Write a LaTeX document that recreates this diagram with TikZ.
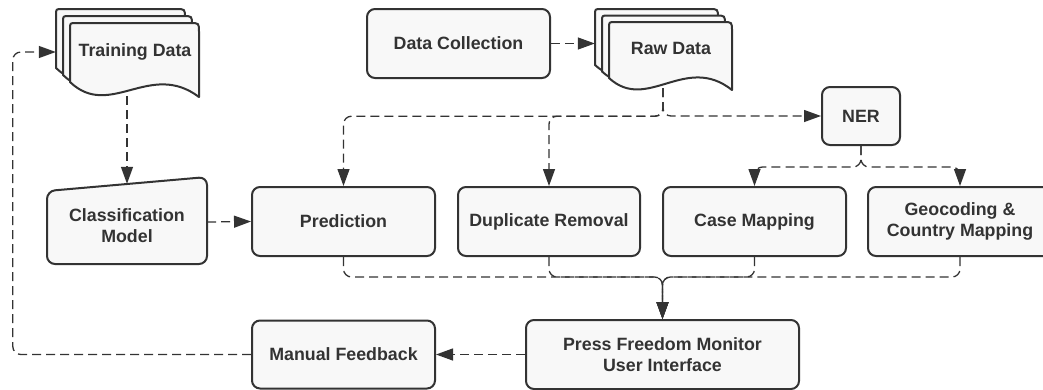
\documentclass[tikz,border=0pt]{standalone}
\usepackage{fontspec}
\setmainfont{Liberation Sans}
\usetikzlibrary{arrows.meta,calc}
\definecolor{ink}{HTML}{333333}
\definecolor{paper}{HTML}{F8F8F8}
\tikzset{
  lbl/.style={text=ink, font=\bfseries\fontsize{17.8}{21}\selectfont, align=center, inner sep=0pt},
  box/.style={lbl, draw=ink, fill=paper, line width=2pt, rounded corners=8pt},
  shapest/.style={draw=ink, fill=paper, line width=2pt, line join=round},
  conn/.style={draw=ink, line width=1.3pt, dash pattern=on 9pt off 5pt, rounded corners=8pt,
    -{Triangle[length=17pt,width=12pt]}},
}
% document page: x0 y0 width left-height right-height
\newcommand\docpg[5]{%
  \filldraw[shapest] (#1,#2+#4) -- (#1,#2+6) .. controls (#1,#2) .. (#1+6,#2)
    -- (#1+#3-9,#2) .. controls (#1+#3,#2) .. (#1+#3,#2+9) -- (#1+#3,#2+#5)
    .. controls (#1+0.62*#3,#2+#5-37) and (#1+0.31*#3,#2+#5+23) .. (#1,#2+#4) -- cycle;}
\begin{document}
\begin{tikzpicture}[x=1pt,y=-1pt]
\useasboundingbox (0,0) rectangle (1043,389);
% document stacks
\docpg{56}{9}{129}{59}{74}
\docpg{63}{16}{129}{59}{74}
\docpg{70}{23}{129}{59}{74}
\docpg{595}{9}{123}{56}{68}
\docpg{602}{15.5}{123}{56}{68}
\docpg{609}{22}{123}{56}{68}
% classification model shape
\filldraw[shapest, rounded corners=8pt] (47,191) -- (207,177) -- (207,264) -- (47,264) -- cycle;
% text nodes for drawn shapes
\node[lbl, minimum width=158pt, minimum height=88pt] (train) at (135,52) {Training Data};
\node[lbl, minimum width=152pt, minimum height=80pt] (raw) at (671,48) {Raw Data};
\node[lbl, minimum width=160pt, minimum height=76pt] (cls) at (127,226) {Classification\\Model};
% boxes
\node[box, minimum width=183pt, minimum height=69pt] (dc) at (458.5,43.5) {Data Collection};
\node[box, minimum width=78pt, minimum height=58pt] (ner) at (861,116) {NER};
\node[box, minimum width=183pt, minimum height=69pt] (pred) at (343.5,221.5) {Prediction};
\node[box, minimum width=182pt, minimum height=69pt] (dup) at (549,221.5) {Duplicate Removal};
\node[box, minimum width=183pt, minimum height=69pt] (case) at (754.5,221.5) {Case Mapping};
\node[box, minimum width=184pt, minimum height=69pt] (geo) at (960,221.5) {Geocoding \&\\Country Mapping};
\node[box, minimum width=273pt, minimum height=69pt] (pf) at (662.5,354.5) {Press Freedom Monitor\\User Interface};
\node[box, minimum width=183pt, minimum height=68pt] (mf) at (343.5,354.5) {Manual Feedback};
% connectors
\coordinate (rawout) at ([xshift=-8pt]raw.south);
\draw[conn] (dc.east) -- (dc.east -| raw.west);
\draw[conn] (rawout) -- ++(0,28) -| (pred.north);
\draw[conn] (rawout) -- ++(0,28) -| (dup.north);
\draw[conn] (rawout) |- (ner.west);
\draw[conn] ([xshift=-8pt]train.south) -- ([yshift=4pt]cls.north);
\draw[conn] ([yshift=4pt]cls.east) -- (pred.west);
\draw[conn] (ner.south) -- ++(0,21) -| (case.north);
\draw[conn] (ner.south) -- ++(0,21) -| (geo.north);
\draw[conn] (pred.south) -- ++(0,20) -| (pf.north);
\draw[conn] (dup.south) -- ++(0,20) -| (pf.north);
\draw[conn] (case.south) -- ++(0,20) -| (pf.north);
\draw[conn] (geo.south) -- ++(0,20) -| (pf.north);
\draw[conn] (pf.west) -- (mf.east);
\draw[conn] (mf.west) -| ([xshift=-43pt]train.west) -- (train.west);
\end{tikzpicture}
\end{document}
